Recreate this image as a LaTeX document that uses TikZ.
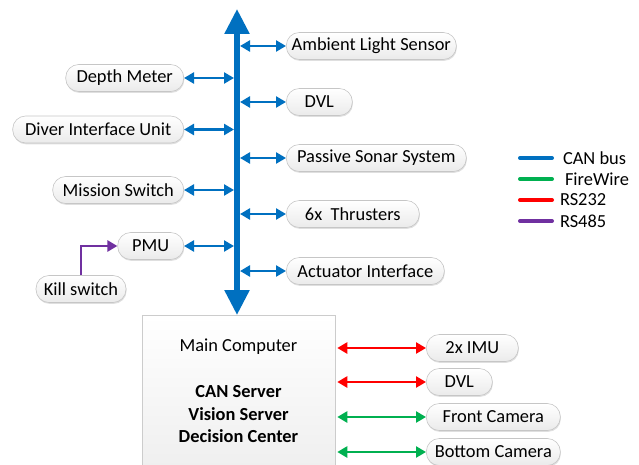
\documentclass[tikz,border=0pt]{standalone}
\usepackage{fontspec}
\setmainfont{Carlito}
\usetikzlibrary{arrows.meta,shadows}
\definecolor{canblue}{RGB}{0,112,192}
\definecolor{fwgreen}{RGB}{0,176,80}
\definecolor{rsred}{RGB}{255,0,0}
\definecolor{rspurple}{RGB}{112,48,160}
\tikzset{
  unit/.style={rectangle, rounded corners=13pt, draw=gray!45, line width=0.6pt,
    top color=white, bottom color=gray!16, minimum height=27pt, inner ysep=0pt,
    inner xsep=2pt, drop shadow={opacity=0.25, shadow xshift=0.6pt, shadow yshift=-1.4pt}},
  mainbox/.style={rectangle, draw=gray!40, line width=0.6pt, top color=white,
    bottom color=gray!14, minimum width=193pt, minimum height=170pt},
  link/.style={line width=2.5pt, >={Triangle[length=10pt,width=11pt]}, <->},
  canlink/.style={link, canblue},
  fwlink/.style={link, fwgreen},
  rslink/.style={link, rsred},
  legendline/.style={line width=4pt, line cap=round},
  legendtext/.style={anchor=west, inner sep=0pt, text=black},
}
\begin{document}
\begin{tikzpicture}[x=1pt, y=-1pt, font=\fontsize{18.4}{22.5}\selectfont]
  \useasboundingbox (0,0) rectangle (639,465);
  \node[mainbox, anchor=north] (main) at (238.5,315) {};
  \node[anchor=north, inner sep=0pt, align=center] (mainlabel) at (238.5,339)
    {Main Computer\\[23.5pt]\textbf{CAN Server}\\\textbf{Vision Server}\\\textbf{Decision Center}};
  \coordinate (bustop) at (237,9);
  \draw[canblue, line width=5.5pt, {Triangle[length=25pt,width=24pt]}-{Triangle[length=25pt,width=24pt]}]
    (bustop) -- (bustop |- main.north);

  \node[unit, anchor=east, minimum width=118pt] (depth) at (184,78) {Depth Meter};
  \node[unit, anchor=east, minimum width=171pt] (diver) at (184,129.5) {Diver Interface Unit};
  \node[unit, anchor=east, minimum width=131pt] (mission) at (184,190) {Mission Switch};
  \node[unit, anchor=east, minimum width=66pt] (pmu) at (184,246) {PMU};
  \node[unit, minimum width=90pt] (kill) at (81,289) {Kill switch};

  \node[unit, anchor=west, minimum width=170pt] (ambient) at (286,46) {Ambient Light Sensor};
  \node[unit, anchor=west, minimum width=66pt] (dvlcan) at (286,102) {DVL};
  \node[unit, anchor=west, minimum width=180pt] (sonar) at (286,158) {Passive Sonar System};
  \node[unit, anchor=west, minimum width=133pt] (thrusters) at (286,214) {6x\ \ Thrusters};
  \node[unit, anchor=west, minimum width=158pt] (actuator) at (286,271) {Actuator Interface};

  \node[unit, anchor=west, minimum width=92pt] (imu) at (426,348) {2x IMU};
  \node[unit, anchor=west, minimum width=66pt] (dvlrs) at (426,382) {DVL};
  \node[unit, anchor=west, minimum width=134pt] (frontcam) at (426,417) {Front Camera};
  \node[unit, anchor=west, minimum width=134pt] (bottomcam) at (426,452) {Bottom Camera};

  \foreach \n in {depth,diver,mission,pmu}
    \draw[canlink, shorten >=3pt] (\n.east) -- (\n.east -| bustop);
  \foreach \n in {ambient,dvlcan,sonar,thrusters,actuator}
    \draw[canlink, shorten <=3pt] (\n.west -| bustop) -- (\n.west);
  \draw[rspurple, line width=2.5pt, -{Triangle[length=10pt,width=11pt]}] (kill.north) |- (pmu.west);

  \draw[rslink, shorten <=2pt] (imu.west -| main.east) -- (imu.west);
  \draw[rslink, shorten <=2pt] (dvlrs.west -| main.east) -- (dvlrs.west);
  \draw[fwlink, shorten <=2pt] (frontcam.west -| main.east) -- (frontcam.west);
  \draw[fwlink, shorten <=2pt] (bottomcam.west -| main.east) -- (bottomcam.west);

  \draw[legendline, canblue] (520,158) -- (552,158) node[legendtext, xshift=9pt] {CAN bus};
  \draw[legendline, fwgreen] (520,179) -- (552,179) node[legendtext, xshift=11pt] {FireWire};
  \draw[legendline, rsred] (520,200) -- (552,200) node[legendtext, xshift=6pt] {RS232};
  \draw[legendline, rspurple] (520,221) -- (552,221) node[legendtext, xshift=6pt] {RS485};
\end{tikzpicture}
\end{document}
